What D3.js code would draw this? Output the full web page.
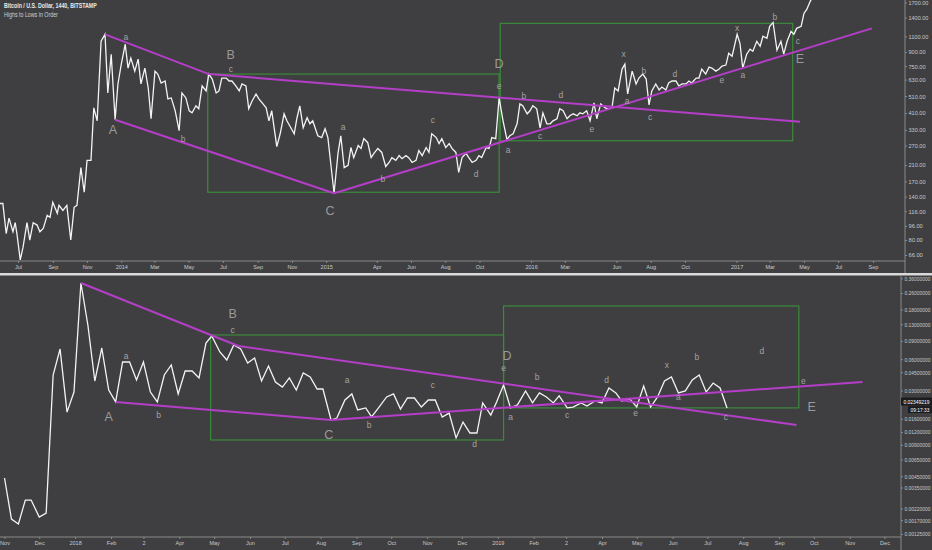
<!DOCTYPE html>
<html><head><meta charset="utf-8">
<script src="https://cdn.jsdelivr.net/npm/d3@7"></script>
<style>html,body{margin:0;padding:0;background:#3f3f41;} svg{display:block}</style>
</head><body><svg id="c" width="932" height="550"></svg>
<script>
// ---------------- DATA (top panel: Bitcoin / USD) ----------------
const topTitle = "Bitcoin / U.S. Dollar, 1440, BITSTAMP";
const topSubtitle = "Highs to Lows in Order";
const topStart = "2013-05-30";
const topDays = [0,5,11,16,23,27,30,36,41,48,53,59,66,71,77,84,89,94,102,105,112,119,126,132,137,144,150,155,162,167,173,180,187,192,198,205,210,216,223,228,233,240,246,251,258,264,269,276,281,287,294,299,305,312,319,324,331,337,342,349,354,360,367,372,378,385,390,395,403,408,413,420,426,431,438,443,449,456,461,467,474,479,484,493,499,506,511,516,524,529,534,540,547,552,557,566,573,579,584,595,602,607,613,620,625,630,638,643,648,655,661,666,673,680,687,693,698,705,711,716,723,728,734,741,746,752,759,764,769,777,782,787,794,800,805,812,817,823,830,835,841,848,853,858,866,871,876,883,889,896,903,908,914,921,926,931,939,944,949,956,962,967,974,980,985,992,997,1003,1010,1015,1021,1028,1033,1038,1045,1051,1058,1063,1070,1078,1083,1090,1095,1101,1108,1113,1118,1126,1133,1138,1145,1151,1156,1161,1168,1174,1179,1186,1191,1197,1204,1209,1215,1222,1227,1232,1240,1245,1250,1257,1263,1268,1275,1281,1286,1293,1298,1304,1313,1318,1323,1330,1336,1341,1348,1354,1359,1366,1371,1377,1384,1391,1396,1402,1409,1414,1419,1427,1432,1437,1443,1452];
const topValues = [128,128,87,106,89,100,87,62,73,100,80,100,97,89,93,110,107,130,113,125,117,125,80,122,125,203,148,223,223,438,371,1032,1129,531,874,376,596,769,994,731,831,703,820,596,731,566,381,703,677,603,619,492,498,422,327,531,498,422,411,450,433,581,545,677,635,531,545,643,643,619,619,581,545,596,581,433,479,524,492,467,438,371,422,266,314,406,371,348,314,386,450,339,386,357,371,306,299,335,299,146,244,306,203,209,263,231,270,260,295,280,231,244,260,247,206,217,231,223,237,228,237,231,217,223,253,237,263,247,314,299,277,295,263,277,260,247,191,231,244,231,217,223,237,231,263,260,299,295,498,371,291,306,314,357,461,450,406,422,450,433,339,411,357,357,371,381,433,422,381,396,406,396,411,406,422,371,467,381,461,438,433,438,566,545,722,769,524,703,596,643,677,635,455,545,596,552,573,552,603,619,619,581,596,596,619,603,643,643,722,677,740,731,703,722,750,760,886,852,1129,1006,731,874,932,908,1032,968,1101,1073,1251,1316,920,1032,874,1032,1173,1129,1219,1251,1477,1554,1720,1950];
const topPriceTicks = [1700,1400,1100,900,750,630,510,410,330,270,210,170,140,116,96,80,66];
const topTickDates = ["2013-07-01","2013-09-01","2013-11-01","2014-01-01","2014-03-01","2014-05-01","2014-07-01","2014-09-01","2014-11-01","2015-01-01","2015-04-01","2015-06-01","2015-08-01","2015-10-01","2016-01-01","2016-03-01","2016-06-01","2016-08-01","2016-10-01","2017-01-01","2017-03-01","2017-05-01","2017-07-01","2017-09-01"];
const topTickLabels = ["Jul","Sep","Nov","2014","Mar","May","Jul","Sep","Nov","2015","Apr","Jun","Aug","Oct","2016","Mar","Jun","Aug","Oct","2017","Mar","May","Jul","Sep"];
const topTrendDays = [[187,372],[372,1425],[205,595],[595,1553]];
const topTrendValues = [[1129,677],[677,366],[376,146],[146,1219]];
const topBoxDays = [[370,889],[891,1412]];
const topBoxValues = [[677,148],[1300,287]];
const topLabelDays = [224,411,411,201,326,588,611,682,771,848,889,889,905,933,962,999,1054,1111,1147,1117,1158,1202,1286,1313,1323,1380,1421,1425];
const topLabelValues = [1087,863,722,331,295,117,344,175,376,186,769,581,256,511,306,517,335,874,703,479,391,677,627,1219,669,1403,1032,820];
const topLabelTexts = ["a","B","c","A","b","C","a","b","c","d","D","e","a","b","c","d","e","x","b","a","c","d","e","x","a","b","c","E"];

// ---------------- DATA (bottom panel) ----------------
const botStart = "2017-11-01";
const botDays = [0,6,12,18,23,30,36,42,48,54,60,66,72,78,84,90,96,102,108,114,120,126,132,138,144,150,156,162,168,174,179,186,192,198,204,210,216,222,228,234,240,246,252,258,264,270,275,282,287,294,300,305,312,317,323,330,336,342,348,354,360,366,372,378,384,390,396,402,408,413,420,425,431,437,443,450,456,462,468,474,479,486,491,498,503,510,516,522,528,533,540,546,552,558,564,570,576,582,588,594,600,606,612,618,624];
const botValues = [0.00432,0.00174,0.00156,0.00265,0.00265,0.00182,0.00199,0.0423,0.0752,0.0186,0.0290,0.3245,0.1280,0.0370,0.0769,0.0303,0.0233,0.0564,0.0564,0.0379,0.0564,0.0290,0.0233,0.0423,0.0528,0.0278,0.0462,0.0462,0.0396,0.0859,0.1003,0.0704,0.0589,0.0822,0.0752,0.0552,0.0616,0.0370,0.0516,0.0362,0.0324,0.0396,0.0303,0.0442,0.0405,0.0310,0.0310,0.0156,0.0163,0.0243,0.0278,0.0195,0.0204,0.0167,0.0204,0.0260,0.0278,0.0199,0.0254,0.0254,0.0208,0.0243,0.0243,0.0167,0.0182,0.0105,0.0149,0.0117,0.0117,0.0228,0.0174,0.0233,0.0339,0.0204,0.0218,0.0297,0.0228,0.0284,0.0260,0.0228,0.0266,0.0204,0.0208,0.0228,0.0213,0.0238,0.0228,0.0317,0.0284,0.0238,0.0249,0.0208,0.0331,0.0208,0.0260,0.0370,0.0405,0.0284,0.0297,0.0379,0.0423,0.0290,0.0354,0.0317,0.0204];
const botPriceTicks = [0.36,0.26,0.18,0.13,0.09,0.06,0.045,0.03,0.016,0.012,0.009,0.0065,0.0045,0.0035,0.0022,0.0017,0.00125];
const botLastPrice = 0.02349219;
const botLastTime = "09:17:33";
const botTickDates = ["2017-11-01","2017-12-01","2018-01-01","2018-02-01","2018-03-01","2018-04-01","2018-05-01","2018-06-01","2018-07-01","2018-08-01","2018-09-01","2018-10-01","2018-11-01","2018-12-01","2019-01-01","2019-02-01","2019-03-01","2019-04-01","2019-05-01","2019-06-01","2019-07-01","2019-08-01","2019-09-01","2019-10-01","2019-11-01","2019-12-01"];
const botTickLabels = ["Nov","Dec","2018","Feb","2","Apr","May","Jun","Jul","Aug","Sep","Oct","Nov","Dec","2019","Feb","2","Apr","May","Jun","Jul","Aug","Sep","Oct","Nov","Dec"];
const botTrendDays = [[66,202],[202,684],[96,282],[282,741]];
const botTrendValues = [[0.3245,0.0804],[0.0804,0.01397],[0.0233,0.0156],[0.0156,0.0362]];
const botBoxDays = [[178,431],[431,686]];
const botBoxValues = [[0.1026,0.01003],[0.1950,0.0204]];
const botLabelDays = [105,197,197,90,133,296,370,280,315,406,434,431,437,460,486,520,545,572,582,598,623,654,690,697];
const botLabelValues = [0.0644,0.1633,0.1146,0.0167,0.0174,0.0379,0.0339,0.0112,0.0140,0.00917,0.0640,0.0494,0.0167,0.0405,0.0174,0.0379,0.0182,0.0528,0.0260,0.0630,0.0167,0.0720,0.0370,0.0208];
const botLabelTexts = ["a","B","c","A","b","a","c","C","b","d","D","e","a","b","c","d","e","x","a","b","c","d","e","E"];

// ---------------- STYLE ----------------
const BG = "#3f3f41", LINE = "#f4f4f4", MAG = "#b43ec8", GRN = "#3b8a3b",
      AXIS = "#8a8a8a", TXT = "#c9c9c9", LBL = "#a2a2a2";
const FONT = "'Liberation Sans', Arial, sans-serif";

const parse = d3.utcParse("%Y-%m-%d");
const svg = d3.select("#c");
svg.append("rect").attr("width",932).attr("height",550).attr("fill",BG);

// squeeze a text element horizontally to a target width (anchored at its start)
function squeeze(node, width) {
  const x0 = +node.getAttribute("x") || 0;
  const w = node.getComputedTextLength();
  const s = Math.min(1, width / w);
  node.setAttribute("x", 0);
  const prev = node.getAttribute("transform") || "";
  node.setAttribute("transform", `${prev} translate(${x0},0) scale(${s},1)`);
}

function drawPanel(p, id) {
  const start = parse(p.start);
  const day = d => d3.utcDay.offset(start, d);
  const x = d3.scaleUtc().domain(p.xDomain.map(parse)).range(p.xRange);
  const y = d3.scaleLog().domain(p.yDomain).range(p.yRange);

  svg.append("clipPath").attr("id", id).append("rect")
     .attr("x", p.clip[0]).attr("y", p.clip[1]).attr("width", p.clip[2]).attr("height", p.clip[3]);
  const g = svg.append("g").attr("clip-path", `url(#${id})`);

  p.boxDays.forEach((bd, i) => {
    const bv = p.boxValues[i];
    g.append("rect")
      .attr("x", x(day(bd[0]))).attr("width", x(day(bd[1])) - x(day(bd[0])))
      .attr("y", y(bv[0])).attr("height", y(bv[1]) - y(bv[0]))
      .attr("fill", "none").attr("stroke", GRN).attr("stroke-width", 1.2);
  });

  const pts = p.days.map((d, i) => [day(d), p.values[i]]);
  g.append("path").datum(pts)
    .attr("d", d3.line().x(d => x(d[0])).y(d => y(d[1])))
    .attr("fill", "none").attr("stroke", LINE).attr("stroke-width", 1.3)
    .attr("stroke-linejoin", "miter");

  p.trendDays.forEach((td, i) => {
    const tv = p.trendValues[i];
    g.append("path").datum([[day(td[0]), tv[0]], [day(td[1]), tv[1]]])
      .attr("d", d3.line().x(d => x(d[0])).y(d => y(d[1])))
      .attr("stroke", MAG).attr("stroke-width", 2).attr("fill", "none");
  });

  p.labelDays.forEach((ld, i) => {
    const t = p.labelTexts[i];
    const big = t === t.toUpperCase() && t !== "x";
    g.append("text").attr("x", x(day(ld))).attr("y", y(p.labelValues[i]))
      .attr("text-anchor", "middle").attr("dominant-baseline", "central")
      .attr("font-family", FONT).attr("font-size", big ? 12.5 : 8.5)
      .attr("fill", big ? "#9a9a9a" : LBL).text(t);
  });

  // bottom time axis
  svg.append("line").attr("x1", 0).attr("x2", p.axisX).attr("y1", p.axisY).attr("y2", p.axisY)
     .attr("stroke", AXIS).attr("stroke-width", 1);
  const xa = d3.axisBottom(x).tickValues(p.tickDates.map(parse))
     .tickFormat((d, i) => p.tickLabels[i]).tickSize(2).tickPadding(2);
  const gx = svg.append("g").attr("transform", `translate(0,${p.axisY})`).call(xa);
  gx.select(".domain").remove();
  gx.selectAll("line").attr("stroke", AXIS);
  gx.selectAll("text").attr("fill", TXT).attr("font-family", FONT).attr("font-size", 5.5);

  // right price axis
  svg.append("line").attr("x1", p.axisX).attr("x2", p.axisX).attr("y1", p.clip[1]).attr("y2", p.rightEnd)
     .attr("stroke", AXIS).attr("stroke-width", 1);
  const ya = d3.axisRight(y).tickValues(p.priceTicks).tickFormat(d3.format(p.fmt)).tickSize(2).tickPadding(1.5);
  const gy = svg.append("g").attr("transform", `translate(${p.axisX},0)`).call(ya);
  gy.select(".domain").remove();
  gy.selectAll("line").attr("stroke", AXIS);
  gy.selectAll("text").attr("fill", TXT).attr("font-family", FONT).attr("font-size", 6)
    .each(function() { squeeze(this, this.textContent.length * p.charW); });
  return {x, y};
}

drawPanel({
  start: topStart, days: topDays, values: topValues,
  xDomain: ["2013-07-01", "2017-09-01"], xRange: [18, 873],
  yDomain: [66, 1700], yRange: [255, 2.5],
  clip: [0, 0, 905, 261], axisY: 261, axisX: 905, rightEnd: 273, charW: 2.85,
  tickDates: topTickDates, tickLabels: topTickLabels, priceTicks: topPriceTicks, fmt: ".2f",
  trendDays: topTrendDays, trendValues: topTrendValues,
  boxDays: topBoxDays, boxValues: topBoxValues,
  labelDays: topLabelDays, labelValues: topLabelValues, labelTexts: topLabelTexts
}, "clipTop");

const bot = drawPanel({
  start: botStart, days: botDays, values: botValues,
  xDomain: ["2017-11-01", "2019-12-01"], xRange: [4.5, 884.5],
  yDomain: [0.00125, 0.26], yRange: [534, 293],
  clip: [0, 276, 901, 261], axisY: 537, axisX: 901, rightEnd: 550, charW: 2.6,
  tickDates: botTickDates, tickLabels: botTickLabels, priceTicks: botPriceTicks, fmt: ".8f",
  trendDays: botTrendDays, trendValues: botTrendValues,
  boxDays: botBoxDays, boxValues: botBoxValues,
  labelDays: botLabelDays, labelValues: botLabelValues, labelTexts: botLabelTexts
}, "clipBot");

// separator between panels
svg.append("rect").attr("x", 0).attr("y", 273).attr("width", 932).attr("height", 2.5).attr("fill", "#d9d9d9");

// last price tag
const ly = bot.y(botLastPrice);
svg.append("rect").attr("x", 901).attr("y", ly - 4).attr("width", 31).attr("height", 8).attr("fill", "#1c1c1e");
const t1 = svg.append("text").attr("x", 903.5).attr("y", ly).attr("dominant-baseline", "central")
   .attr("font-family", FONT).attr("font-size", 6).attr("fill", "#ffffff").text(botLastPrice.toFixed(8));
squeeze(t1.node(), 26);
svg.append("rect").attr("x", 908).attr("y", ly + 4.5).attr("width", 24).attr("height", 7).attr("fill", "#1c1c1e");
const t2 = svg.append("text").attr("x", 910.5).attr("y", ly + 8).attr("dominant-baseline", "central")
   .attr("font-family", FONT).attr("font-size", 6).attr("fill", "#ffffff").text(botLastTime);
squeeze(t2.node(), 19);

// titles
const tt = svg.append("text").attr("x", 4).attr("y", 8.5).attr("font-family", FONT).attr("font-size", 6.5)
   .attr("font-weight", "bold").attr("fill", "#e8e8e8").text(topTitle);
squeeze(tt.node(), 93);
const ts = svg.append("text").attr("x", 4).attr("y", 17).attr("font-family", FONT).attr("font-size", 6.5)
   .attr("fill", "#cfcfcf").text(topSubtitle);
squeeze(ts.node(), 54);
</script></body></html>
